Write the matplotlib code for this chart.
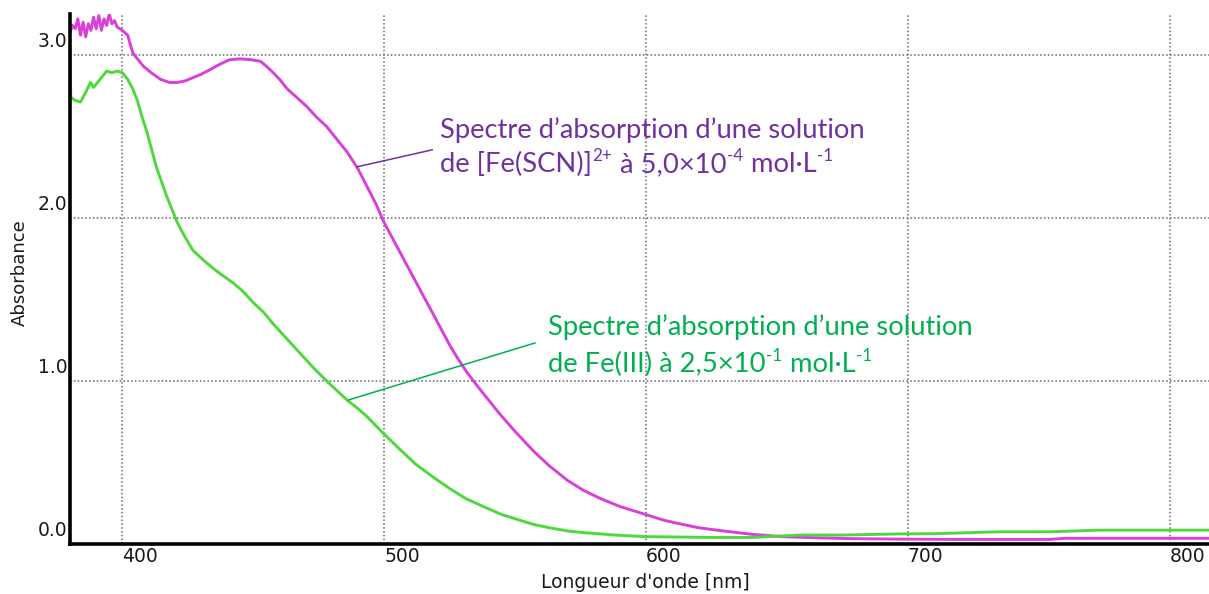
import matplotlib
matplotlib.use('Agg')
import matplotlib.pyplot as plt
import matplotlib.transforms as mtransforms

# magenta : [Fe(SCN)]2+ spectrum
mag_nm = [380, 381, 382, 383, 384, 385, 386, 387, 388, 389, 390, 391, 392, 393,
          394, 395, 396, 397, 398, 400, 402, 404, 406, 408, 411, 414.5, 418, 421,
          424, 427, 430, 433.6, 437, 441, 445, 449, 452.7, 455, 457.6, 460, 463,
          466.5, 470.6, 474, 478, 482, 486, 490, 493.5, 497, 500, 506, 511, 515,
          518.7, 522, 525, 528, 531.7, 535.5, 540, 544, 550, 557, 563, 570, 576,
          582.4, 590, 600, 607, 614, 620, 627, 640, 652, 665, 678, 697, 720, 754,
          760, 790, 815]
mag_A = [3.14, 3.18, 3.16, 3.22, 3.12, 3.20, 3.11, 3.19, 3.15, 3.23, 3.16, 3.24,
         3.15, 3.22, 3.18, 3.25, 3.19, 3.21, 3.17, 3.15, 3.12, 3.01, 2.97, 2.93,
         2.89, 2.85, 2.83, 2.83, 2.84, 2.86, 2.88, 2.91, 2.94, 2.97, 2.975, 2.97,
         2.96, 2.93, 2.89, 2.85, 2.79, 2.74, 2.68, 2.62, 2.56, 2.48, 2.40, 2.30,
         2.19, 2.08, 1.97, 1.79, 1.64, 1.52, 1.41, 1.31, 1.22, 1.14, 1.05, 0.97,
         0.88, 0.80, 0.69, 0.57, 0.48, 0.39, 0.33, 0.28, 0.23, 0.18, 0.145, 0.12,
         0.10, 0.085, 0.06, 0.045, 0.038, 0.033, 0.03, 0.028, 0.028, 0.035, 0.035,
         0.035]

# green : Fe(III) spectrum
grn_nm = [380, 380.3, 382, 384, 386, 387.8, 389, 391, 394, 396, 398, 400, 402, 404,
          405.7, 407.5, 409.5, 413, 417, 421, 424, 427, 431, 434.7, 438, 442.4, 446,
          450, 454, 457.6, 461, 465, 469, 473, 478, 482, 486, 490, 493.5, 499.6, 506,
          512, 518.7, 525, 531, 537.8, 545, 550, 557, 563, 570, 576, 588, 600, 627,
          640, 659, 675, 697, 710, 735, 755, 773, 815]
grn_A = [3.03, 2.74, 2.72, 2.71, 2.77, 2.83, 2.80, 2.84, 2.90, 2.89, 2.90, 2.89,
         2.85, 2.79, 2.72, 2.62, 2.52, 2.31, 2.13, 1.97, 1.88, 1.80, 1.74, 1.69,
         1.65, 1.60, 1.55, 1.48, 1.42, 1.35, 1.29, 1.22, 1.15, 1.08, 1.00, 0.94,
         0.88, 0.83, 0.78, 0.68, 0.58, 0.49, 0.41, 0.34, 0.28, 0.23, 0.18, 0.155,
         0.12, 0.10, 0.08, 0.07, 0.055, 0.045, 0.04, 0.04, 0.055, 0.055, 0.062,
         0.063, 0.075, 0.075, 0.085, 0.085]

x_ticks = [400, 500, 600, 700, 800]
y_ticks = [0, 1, 2, 3]
y_ticklabels = ['0.0', '1.0', '2.0', '3.0']

W, H = 1209, 594
fig = plt.figure(figsize=(W/100., H/100.), dpi=100)
ax = fig.add_axes([70./W, 1-544./H, 1-70./W, (544.-14)/H])

ax.plot(mag_nm, mag_A, color='#DA3FDA', lw=2.1)
ax.plot(grn_nm, grn_A, color='#4FD83E', lw=2.1)

ax.set_xlim(380, 815)
ax.set_ylim(0, 3.25)
ax.set_xticks(x_ticks)
ax.set_yticks(y_ticks)
ax.set_yticklabels(y_ticklabels)
ax.grid(True, color='#666666', linestyle=(0, (1, 1.5)), linewidth=1.1)
ax.set_axisbelow(True)
ax.tick_params(length=0, labelsize=13.5, labelcolor='#1a1a1a', pad=2)

for s in ['top', 'right']:
    ax.spines[s].set_visible(False)
for s in ['left', 'bottom']:
    ax.spines[s].set_linewidth(2.6)
    ax.spines[s].set_color('black')

for lab in ax.get_xticklabels():
    lab.set_ha('left')
for lab in ax.get_yticklabels():
    lab.set_va('bottom')
    lab.set_transform(lab.get_transform() + mtransforms.ScaledTranslation(0, 3/72., fig.dpi_scale_trans))

fig.text(645./W, 1-583./H, "Longueur d'onde [nm]", ha='center', va='center', fontsize=13.5, color='#1a1a1a')
fig.text(20./W, 1-273./H, 'Absorbance', ha='center', va='center', rotation=90, fontsize=13, color='#1a1a1a')

# annotations
purple = '#7030A0'
green = '#00B050'
ax.plot([489.7, 518.3], [2.313, 2.417], color=purple, lw=1.1)
ax.plot([486.3, 557.6], [0.883, 1.233], color=green, lw=1.1)

fs = 19.7
renderer = fig.canvas.get_renderer()

def rich_line(x, y, parts, color):
    # x, y in pixels from top-left; parts = list of (text, superscript?)
    for s, sup in parts:
        size = fs*0.62 if sup else fs
        yy = y - 11 if sup else y
        t = fig.text(x/W, 1-yy/H, s, fontfamily='Lato', fontsize=size, color=color,
                     va='baseline', ha='left')
        bb = t.get_window_extent(renderer=renderer)
        x = bb.x1 + 0.5

rich_line(440, 138, [('Spectre d\u2019absorption d\u2019une solution', False)], purple)
rich_line(440, 172, [('de [Fe(SCN)]', False), ('2+', True), (' à 5,0×10', False),
                     ('-4', True), (' mol·L', False), ('-1', True)], purple)
rich_line(548, 335, [('Spectre d\u2019absorption d\u2019une solution', False)], green)
rich_line(548, 372, [('de Fe(III) à 2,5×10', False), ('-1', True), (' mol·L', False),
                     ('-1', True)], green)

fig.savefig('out.png', dpi=100)
